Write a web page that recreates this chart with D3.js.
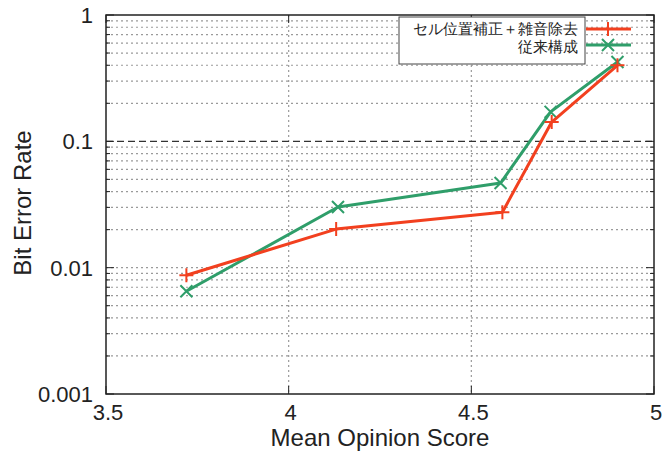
<!DOCTYPE html>
<html><head><meta charset="utf-8">
<script src="https://cdn.jsdelivr.net/npm/d3@7"></script>
<style>body{margin:0;background:#fff}svg{display:block}text{font-family:"Liberation Sans",Arial,sans-serif}</style>
</head><body><svg id="c" width="665" height="452"></svg>
<script>
// Bit error rate versus mean opinion score
const seriesNames = ["セル位置補正＋雑音除去", "従来構成"];
const mosProposed = [3.72, 4.13, 4.585, 4.72, 4.9];
const berProposed = [0.0087, 0.0202, 0.0275, 0.142, 0.40];
const mosConventional = [3.72, 4.135, 4.58, 4.717, 4.9];
const berConventional = [0.0065, 0.0302, 0.0468, 0.171, 0.425];
const xTicks = [3.5, 4, 4.5, 5];
const xTickLabels = ["3.5", "4", "4.5", "5"];
const yTicks = [0.001, 0.01, 0.1, 1];
const yTickLabels = ["0.001", "0.01", "0.1", "1"];
const threshold = 0.1;

const colors = ["#f2401f", "#2f9e6a"];
const svg = d3.select("#c");
const m = {l: 106, r: 654, t: 15, b: 394};
const x = d3.scaleLinear().domain([3.5, 5]).range([m.l, m.r]);
const y = d3.scaleLog().domain([0.001, 1]).range([m.b, m.t]);

// minor log grid
const minor = [];
[0.001, 0.01, 0.1].forEach(d => { for (let k = 2; k <= 9; k++) minor.push(d * k); });
const grid = svg.append("g");
grid.selectAll("line.h").data(minor.concat([0.01])).join("line")
  .attr("x1", m.l).attr("x2", m.r).attr("y1", d => y(d)).attr("y2", d => y(d))
  .attr("stroke", "#9a9a9a").attr("stroke-width", 1.2).attr("stroke-dasharray", "2,3");
grid.selectAll("line.v").data([4, 4.5]).join("line")
  .attr("x1", d => x(d)).attr("x2", d => x(d)).attr("y1", m.t).attr("y2", m.b)
  .attr("stroke", "#9a9a9a").attr("stroke-width", 1.2).attr("stroke-dasharray", "2,3");
// threshold line
svg.append("line").attr("x1", m.l).attr("x2", m.r).attr("y1", y(threshold)).attr("y2", y(threshold))
  .attr("stroke", "#333").attr("stroke-width", 1.4).attr("stroke-dasharray", "7,4");

// border ticks
const tk = svg.append("g").attr("stroke", "#222").attr("stroke-width", 1);
minor.forEach(d => {
  tk.append("line").attr("x1", m.l).attr("x2", m.l + 4).attr("y1", y(d)).attr("y2", y(d));
  tk.append("line").attr("x1", m.r).attr("x2", m.r - 4).attr("y1", y(d)).attr("y2", y(d));
});
yTicks.forEach(d => {
  tk.append("line").attr("x1", m.l).attr("x2", m.l + 8).attr("y1", y(d)).attr("y2", y(d));
  tk.append("line").attr("x1", m.r).attr("x2", m.r - 8).attr("y1", y(d)).attr("y2", y(d));
});
xTicks.forEach(d => {
  tk.append("line").attr("x1", x(d)).attr("x2", x(d)).attr("y1", m.b).attr("y2", m.b - 8);
  tk.append("line").attr("x1", x(d)).attr("x2", x(d)).attr("y1", m.t).attr("y2", m.t + 8);
});

// frame
svg.append("rect").attr("x", m.l).attr("y", m.t).attr("width", m.r - m.l).attr("height", m.b - m.t)
  .attr("fill", "none").attr("stroke", "#222").attr("stroke-width", 1.5);

// tick labels
svg.append("g").selectAll("text").data(yTicks).join("text")
  .attr("x", m.l - 13).attr("y", d => y(d) + 8).attr("text-anchor", "end")
  .attr("font-size", 22).attr("fill", "#222").text((d, i) => yTickLabels[i]);
svg.append("g").selectAll("text").data(xTicks).join("text")
  .attr("x", d => x(d) + 2).attr("y", m.b + 26).attr("text-anchor", "middle")
  .attr("font-size", 22).attr("fill", "#222").text((d, i) => xTickLabels[i]);

// axis titles
svg.append("text").attr("x", 380).attr("y", 446).attr("text-anchor", "middle")
  .attr("font-size", 24).attr("fill", "#222").text("Mean Opinion Score");
svg.append("text").attr("transform", `translate(31,203) rotate(-90)`)
  .attr("text-anchor", "middle").attr("font-size", 24).attr("fill", "#222").text("Bit Error Rate");

// series
const line = d3.line().x(d => x(d[0])).y(d => y(d[1]));
const data = [d3.zip(mosProposed, berProposed), d3.zip(mosConventional, berConventional)];
const plus = s => `M${-s},0H${s}M0,${-s}V${s}`;
const cross = s => `M${-s},${-s}L${s},${s}M${-s},${s}L${s},${-s}`;
const marks = [plus(7), cross(6)];
// draw conventional first, proposed on top
[1, 0].forEach(i => {
  const g = svg.append("g");
  g.append("path").datum(data[i]).attr("d", line).attr("fill", "none")
    .attr("stroke", colors[i]).attr("stroke-width", 3).attr("stroke-linejoin", "round");
  g.selectAll("path.m").data(data[i]).join("path").attr("class", "m")
    .attr("transform", d => `translate(${x(d[0])},${y(d[1])})`)
    .attr("d", marks[i]).attr("stroke", colors[i]).attr("stroke-width", 2).attr("fill", "none");
});

// legend
const lg = svg.append("g");
lg.append("rect").attr("x", 399).attr("y", 17).attr("width", 186).attr("height", 47)
  .attr("fill", "#fff").attr("stroke", "#444").attr("stroke-width", 1);
const textY = [34, 52];
const sampleY = [29, 45];
seriesNames.forEach((n, i) => {
  lg.append("text").attr("x", 578).attr("y", textY[i]).attr("text-anchor", "end")
    .attr("font-family", "Noto Sans CJK JP").attr("font-size", 15.3).attr("fill", "#222").text(n);
  lg.append("line").attr("x1", 586).attr("x2", 631).attr("y1", sampleY[i]).attr("y2", sampleY[i])
    .attr("stroke", colors[i]).attr("stroke-width", 3);
  lg.append("path").attr("transform", `translate(608,${sampleY[i]})`).attr("d", marks[i])
    .attr("stroke", colors[i]).attr("stroke-width", 2).attr("fill", "none");
});
</script></body></html>
